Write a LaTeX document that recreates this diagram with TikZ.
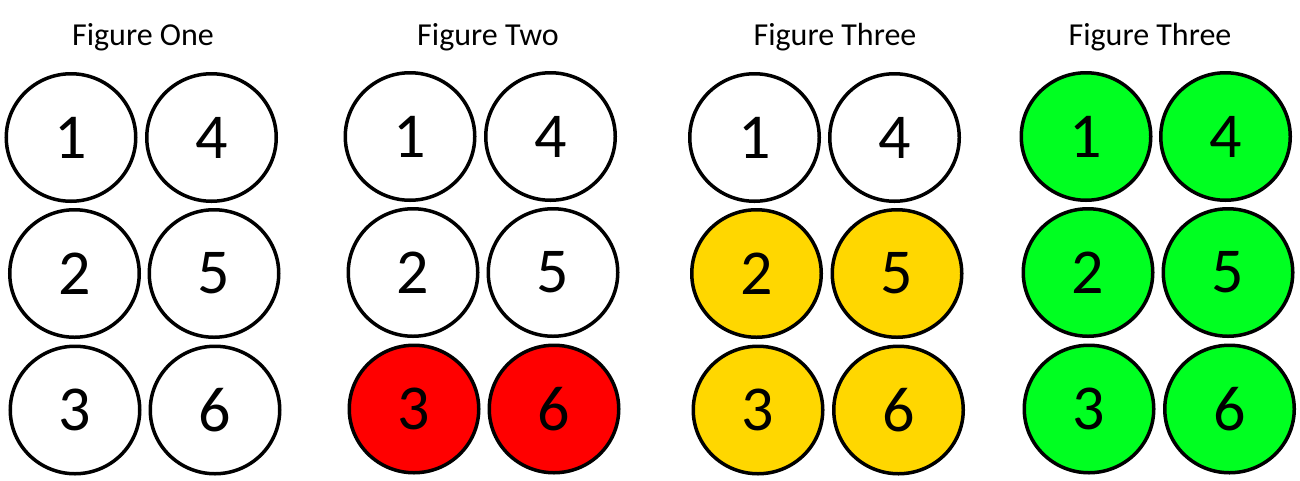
\documentclass[tikz,border=0pt]{standalone}
\usepackage{fontspec}
\setmainfont{Carlito}
\usetikzlibrary{shapes.geometric}
\definecolor{fillred}{RGB}{255,0,0}
\definecolor{fillyellow}{RGB}{255,215,0}
\definecolor{fillgreen}{RGB}{0,255,33}
\tikzset{
  ball/.style={ellipse, draw=black, line width=3.5pt, fill=white, inner sep=0pt,
    minimum width=129.5pt, minimum height=127.5pt,
    font=\fontsize{64}{64}\selectfont},
  title/.style={anchor=base, inner sep=0pt, font=\fontsize{32}{32}\selectfont},
}
\begin{document}
\begin{tikzpicture}[x=1pt,y=-1pt]
\useasboundingbox (0,0) rectangle (1300,480);
% Figure One
\node[title] (t1) at (143,45) {Figure One};
\node[ball] (a1) at (71,137.5) {1};
\node[ball] (a4) at (211.5,137.5) {4};
\node[ball] (a2) at (74.5,273.5) {2};
\node[ball] (a5) at (214,273.5) {5};
\node[ball] (a3) at (75,410) {3};
\node[ball] (a6) at (215,410) {6};
% Figure Two
\node[title] (t2) at (488,45) {Figure Two};
\node[ball] (b1) at (410,136.5) {1};
\node[ball] (b4) at (550.5,136.5) {4};
\node[ball] (b2) at (413,272.5) {2};
\node[ball] (b5) at (553,272.5) {5};
\node[ball, fill=fillred] (b3) at (414,409) {3};
\node[ball, fill=fillred] (b6) at (554,409) {6};
% Figure Three
\node[title] (t3) at (835,45) {Figure Three};
\node[ball] (c1) at (754.5,137.5) {1};
\node[ball] (c4) at (894.5,137.5) {4};
\node[ball, fill=fillyellow] (c2) at (756.5,273.5) {2};
\node[ball, fill=fillyellow] (c5) at (897,273.5) {5};
\node[ball, fill=fillyellow] (c3) at (758,410) {3};
\node[ball, fill=fillyellow] (c6) at (898.5,410) {6};
% Figure Three (green)
\node[title] (t4) at (1150,45) {Figure Three};
\node[ball, fill=fillgreen] (d1) at (1086,136.5) {1};
\node[ball, fill=fillgreen] (d4) at (1225.5,136.5) {4};
\node[ball, fill=fillgreen] (d2) at (1088,272.5) {2};
\node[ball, fill=fillgreen] (d5) at (1228,272.5) {5};
\node[ball, fill=fillgreen] (d3) at (1089,409) {3};
\node[ball, fill=fillgreen] (d6) at (1229.5,409) {6};
\end{tikzpicture}
\end{document}
